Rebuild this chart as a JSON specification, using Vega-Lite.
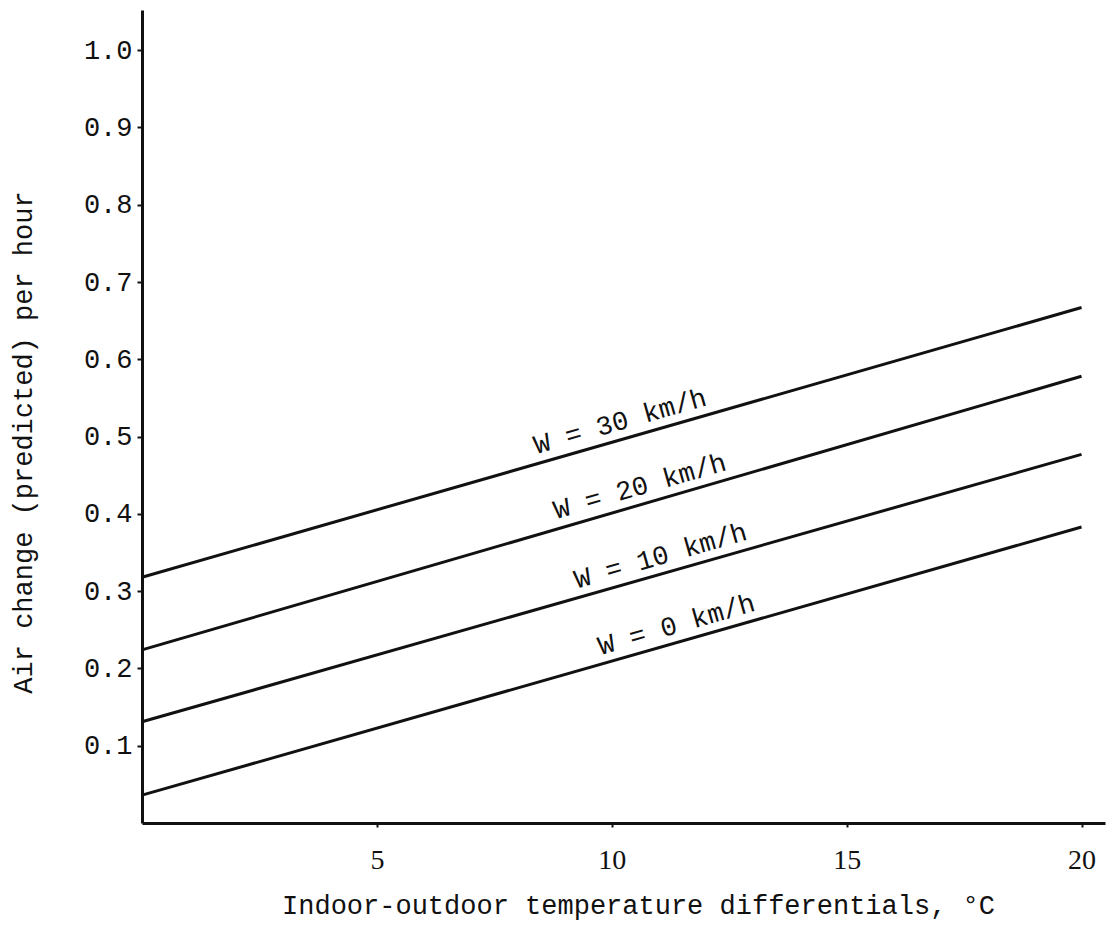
{
  "$schema": "https://vega.github.io/schema/vega-lite/v6.json",
  "width": 963,
  "height": 813,
  "autosize": "none",
  "padding": {"left": 142, "top": 10, "right": 4, "bottom": 107},
  "background": "white",
  "config": {"view": {"stroke": null}, "font": "Liberation Mono"},
  "datasets": {
    "lines": [
      {"wind": 30, "dt": 0, "ach": 0.318},
      {"wind": 30, "dt": 20, "ach": 0.667},
      {"wind": 20, "dt": 0, "ach": 0.224},
      {"wind": 20, "dt": 20, "ach": 0.578},
      {"wind": 10, "dt": 0, "ach": 0.131},
      {"wind": 10, "dt": 20, "ach": 0.477},
      {"wind": 0, "dt": 0, "ach": 0.036},
      {"wind": 0, "dt": 20, "ach": 0.383}
    ],
    "labels": [
      {"label": "W = 30 km/h", "dt": 10.28, "ach": 0.498},
      {"label": "W = 20 km/h", "dt": 10.7, "ach": 0.414},
      {"label": "W = 10 km/h", "dt": 11.14, "ach": 0.324},
      {"label": "W = 0 km/h", "dt": 11.48, "ach": 0.235}
    ]
  },
  "layer": [
    {
      "data": {"name": "lines"},
      "mark": {"type": "line", "color": "#111111", "strokeWidth": 3},
      "encoding": {
        "x": {
          "field": "dt",
          "type": "quantitative",
          "scale": {"domain": [0, 20.5], "nice": false, "zero": false},
          "axis": {
            "values": [5, 10, 15, 20],
            "grid": false,
            "title": "Indoor-outdoor temperature differentials, °C",
            "domainColor": "#111111",
            "domainWidth": 3,
            "tickColor": "#111111",
            "tickSize": 4,
            "tickWidth": 2,
            "labelFont": "Liberation Serif",
            "labelFontSize": 28,
            "labelColor": "#111111",
            "labelPadding": 33,
            "labelBaseline": "middle",
            "titleFont": "Liberation Mono",
            "titleFontSize": 27,
            "titleFontWeight": "normal",
            "titleColor": "#111111",
            "titleX": 496,
            "titleY": 90,
            "titleAlign": "center",
            "titleBaseline": "alphabetic"
          }
        },
        "y": {
          "field": "ach",
          "type": "quantitative",
          "scale": {"domain": [0, 1.052], "nice": false},
          "axis": {
            "values": [0.1, 0.2, 0.3, 0.4, 0.5, 0.6, 0.7, 0.8, 0.9, 1.0],
            "format": ".1f",
            "grid": false,
            "title": "Air change (predicted) per hour",
            "domainColor": "#111111",
            "domainWidth": 3,
            "tickColor": "#111111",
            "tickSize": 5,
            "tickWidth": 2,
            "labelFont": "Liberation Mono",
            "labelFontSize": 27,
            "labelColor": "#111111",
            "labelPadding": 5,
            "titleFont": "Liberation Mono",
            "titleFontSize": 27,
            "titleFontWeight": "normal",
            "titleColor": "#111111",
            "titleX": -111,
            "titleY": 432,
            "titleAlign": "center",
            "titleBaseline": "alphabetic"
          }
        },
        "detail": {"field": "wind", "type": "nominal"}
      }
    },
    {
      "data": {"name": "labels"},
      "mark": {
        "type": "text",
        "angle": 344,
        "align": "center",
        "baseline": "bottom",
        "dy": -3,
        "font": "Liberation Mono",
        "fontSize": 27,
        "color": "#111111"
      },
      "encoding": {
        "x": {"field": "dt", "type": "quantitative"},
        "y": {"field": "ach", "type": "quantitative"},
        "text": {"field": "label"}
      }
    }
  ]
}
